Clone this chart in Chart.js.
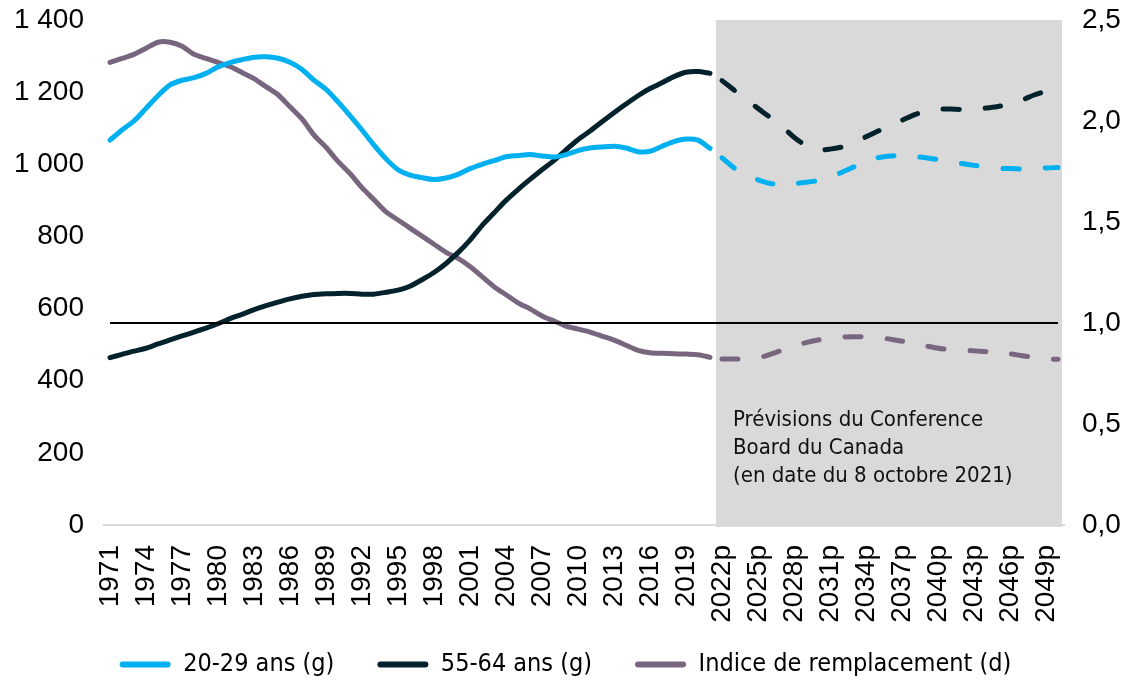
<!DOCTYPE html>
<html lang="fr">
<head>
<meta charset="utf-8">
<title>Population 20-29 ans et 55-64 ans, indice de remplacement</title>
<script src="https://cdn.jsdelivr.net/npm/chart.js@4.4.1/dist/chart.umd.min.js"></script>
<style>
  html, body { margin: 0; padding: 0; background: #ffffff; }
  #wrap { width: 1131px; height: 681px; }
</style>
</head>
<body>
<div id="wrap"><canvas id="chart" width="1131" height="681"></canvas></div>
<script>
// Années (p = prévisions)
const years = [
  '1971','1972','1973','1974','1975','1976','1977','1978','1979','1980',
  '1981','1982','1983','1984','1985','1986','1987','1988','1989','1990',
  '1991','1992','1993','1994','1995','1996','1997','1998','1999','2000',
  '2001','2002','2003','2004','2005','2006','2007','2008','2009','2010',
  '2011','2012','2013','2014','2015','2016','2017','2018','2019','2020',
  '2021',
  '2022p','2023p','2024p','2025p','2026p','2027p','2028p','2029p','2030p',
  '2031p','2032p','2033p','2034p','2035p','2036p','2037p','2038p','2039p','2040p',
  '2041p','2042p','2043p','2044p','2045p','2046p','2047p','2048p','2049p','2050p'
];

// 20-29 ans (milliers, axe de gauche), 1971-2021
const youngHist = [
  1067, 1095, 1120, 1155, 1190, 1220, 1233, 1240, 1252, 1270,
  1282, 1290, 1297, 1298, 1294, 1283, 1263, 1233, 1208, 1173,
  1135, 1095, 1053, 1015, 985, 970, 963, 958, 962, 972,
  988, 1000, 1010, 1021, 1024, 1027, 1023, 1020, 1027, 1038,
  1045, 1048, 1050, 1045, 1035, 1036, 1050, 1063, 1070, 1067,
  1044
];
// 20-29 ans, prévisions 2022-2050
const youngProj = [
  1018, 990, 970, 957, 947, 943, 946, 950, 955,
  963, 978, 993, 1008, 1018, 1023, 1025, 1022, 1018, 1013,
  1007, 1002, 997, 992, 989, 988, 987, 988, 990, 991
];

// 55-64 ans (milliers, axe de gauche), 1971-2021
const olderHist = [
  464, 473, 482, 490, 502, 513, 524, 535, 546, 558,
  572, 584, 597, 608, 618, 627, 634, 639, 641, 642,
  642, 640, 640, 645, 651, 662, 680, 700, 725, 755,
  790, 830, 865, 900, 930, 958, 985, 1010, 1040, 1068,
  1092, 1118, 1143, 1167, 1190, 1210, 1226, 1243, 1255, 1257,
  1252
];
// 55-64 ans, prévisions 2022-2050
const olderProj = [
  1232, 1206, 1180, 1155, 1130, 1105, 1075, 1052, 1040,
  1042, 1048, 1060, 1076, 1092, 1108, 1122, 1137, 1148, 1153,
  1153, 1152, 1152, 1156, 1160, 1168, 1178, 1192, 1203, 1213
];

// Indice de remplacement (axe de droite), 1971-2021
const ratioHist = [
  2.29, 2.31, 2.33, 2.36, 2.39, 2.39, 2.37, 2.33, 2.31, 2.29,
  2.27, 2.24, 2.21, 2.17, 2.13, 2.07, 2.01, 1.93, 1.87, 1.80,
  1.74, 1.67, 1.61, 1.55, 1.51, 1.47, 1.43, 1.39, 1.35, 1.32,
  1.28, 1.23, 1.18, 1.14, 1.10, 1.07, 1.035, 1.01, 0.985, 0.97,
  0.955, 0.935, 0.915, 0.89, 0.865, 0.853, 0.85, 0.848, 0.846, 0.843,
  0.83
];
// Indice de remplacement, prévisions 2022-2050
const ratioProj = [
  0.822, 0.822, 0.823, 0.826, 0.845, 0.865, 0.885, 0.903, 0.916,
  0.925, 0.93, 0.932, 0.932, 0.93, 0.92, 0.91, 0.898, 0.887, 0.875,
  0.868, 0.866, 0.862, 0.858, 0.854, 0.848, 0.838, 0.83, 0.823, 0.82
];

// Seuil de remplacement (indice = 1)
const replacementLevel = 1.0;

// Ticks
const leftTicks = [0, 200, 400, 600, 800, 1000, 1200, 1400];
const rightTicks = [0, 0.5, 1.0, 1.5, 2.0, 2.5];
const forecastStart = '2022p';
const forecastNote = ['Prévisions du Conference', 'Board du Canada', '(en date du 8 octobre 2021)'];

const COLORS = { young: '#00B0F0', older: '#03222C', ratio: '#77667D', shade: '#D9D9D9' };
const TICK_FONT = { family: '"Liberation Sans", Arial, sans-serif', size: 28 };
const NARROW = '"Liberation Sans Narrow", "Arial Narrow", "DejaVu Sans Condensed", sans-serif';

const nHist = youngHist.length;
const solid = arr => arr.concat(new Array(years.length - arr.length).fill(null));
const dashed = arr => new Array(nHist).fill(null).concat(arr);

const lineBase = { borderWidth: 5, pointRadius: 0, pointHoverRadius: 0, tension: 0.25,
                   borderCapStyle: 'round', borderJoinStyle: 'round', fill: false, spanGaps: false };
const dashStyle = { borderDash: [16, 26] };

// Zone grisée des prévisions + note
const forecastPlugin = {
  id: 'forecastZone',
  afterLayout(chart) {
    // la légende remonte sous les étiquettes pivotées de l'axe des années
    const lg = chart.legend;
    if (lg) { lg.top -= 18; }
  },
  beforeDatasetsDraw(chart) {
    const { ctx, chartArea, scales } = chart;
    const x = scales.x;
    const i = years.indexOf(forecastStart);
    const left = (x.getPixelForValue(i - 1) + x.getPixelForValue(i)) / 2;
    ctx.save();
    ctx.fillStyle = COLORS.shade;
    ctx.fillRect(left, chartArea.top, chartArea.right - left - 2, chartArea.bottom - chartArea.top + 2);
    ctx.fillStyle = '#111111';
    ctx.font = '22px ' + NARROW;
    ctx.textBaseline = 'middle';
    ctx.textAlign = 'left';
    const y0 = scales.y.getPixelForValue(290);
    forecastNote.forEach((t, k) => ctx.fillText(t, left + 17, y0 + k * 28));
    ctx.restore();
  }
};

const fmtLeft = v => v >= 1000 ? Math.floor(v / 1000) + ' ' + String(v % 1000).padStart(3, '0') : String(v);
const fmtRight = v => v.toFixed(1).replace('.', ',');
const noPad = s => { s.paddingTop = 0; s.paddingBottom = 0; s.paddingLeft = 0; s.paddingRight = 0; };

const chart = new Chart(document.getElementById('chart'), {
  type: 'line',
  data: {
    labels: years,
    datasets: [
      { ...lineBase, label: '20-29 ans (g)', data: solid(youngHist), borderColor: COLORS.young, backgroundColor: COLORS.young, yAxisID: 'y', order: 1 },
      { ...lineBase, ...dashStyle, label: '_young_p', data: dashed(youngProj), borderColor: COLORS.young, yAxisID: 'y', order: 4 },
      { ...lineBase, label: '55-64 ans (g)', data: solid(olderHist), borderColor: COLORS.older, backgroundColor: COLORS.older, yAxisID: 'y', order: 2 },
      { ...lineBase, ...dashStyle, label: '_older_p', data: dashed(olderProj), borderColor: COLORS.older, yAxisID: 'y', order: 5 },
      { ...lineBase, label: 'Indice de remplacement (d)', data: solid(ratioHist), borderColor: COLORS.ratio, backgroundColor: COLORS.ratio, yAxisID: 'y1', order: 3 },
      { ...lineBase, ...dashStyle, label: '_ratio_p', data: dashed(ratioProj), borderColor: COLORS.ratio, yAxisID: 'y1', order: 6 },
      { label: '_level', data: [{ x: years[0], y: replacementLevel }, { x: years[years.length - 1], y: replacementLevel }],
        borderColor: '#000000', borderWidth: 2, pointRadius: 0, tension: 0, yAxisID: 'y1', order: 0 }
    ]
  },
  options: {
    responsive: false,
    animation: false,
    devicePixelRatio: 1,
    layout: { padding: { top: 20, bottom: 0, left: 0, right: 0 } },
    plugins: {
      tooltip: { enabled: false },
      legend: {
        position: 'bottom',
        labels: {
          generateLabels: c => Chart.defaults.plugins.legend.labels.generateLabels(c)
            .filter(item => !item.text.startsWith('_'))
            .map(item => ({ ...item, lineWidth: 0, borderRadius: 3 })),
          useBorderRadius: true,
          boxWidth: 51,
          boxHeight: 6,
          padding: 43,
          color: '#000000',
          font: { family: NARROW, size: 25 }
        }
      }
    },
    scales: {
      x: {
        type: 'category',
        offset: true,
        grid: { display: false, drawTicks: false },
        border: { display: true, color: COLORS.shade, width: 2 },
        ticks: {
          autoSkip: false, maxRotation: 90, minRotation: 90, padding: 20,
          color: '#000000', font: TICK_FONT,
          callback: (v, i) => (i % 3 === 0 ? years[i] : '')
        },
        afterFit: s => { noPad(s); s.height = 102; }
      },
      y: {
        position: 'left', min: 0, max: 1400,
        grid: { display: false, drawTicks: false },
        border: { display: false },
        afterBuildTicks: s => { s.ticks = leftTicks.map(v => ({ value: v })); },
        ticks: { padding: 20, color: '#000000', font: TICK_FONT, callback: v => fmtLeft(v) },
        afterFit: s => { noPad(s); s.width = 104; }
      },
      y1: {
        position: 'right', min: 0, max: 2.5,
        grid: { display: false, drawTicks: false },
        border: { display: false },
        afterBuildTicks: s => { s.ticks = rightTicks.map(v => ({ value: v })); },
        ticks: { padding: 18, color: '#000000', font: TICK_FONT, callback: v => fmtRight(v) },
        afterFit: s => { noPad(s); s.width = 67; }
      }
    }
  },
  plugins: [forecastPlugin]
});

// Légende : hauteur fixe pour garder l'écart entre les entrées sans agrandir le bas du graphique
const legendFit = chart.legend.fit;
chart.legend.fit = function () { legendFit.call(this); this.height = 54; };
chart.update();
</script>
</body>
</html>
